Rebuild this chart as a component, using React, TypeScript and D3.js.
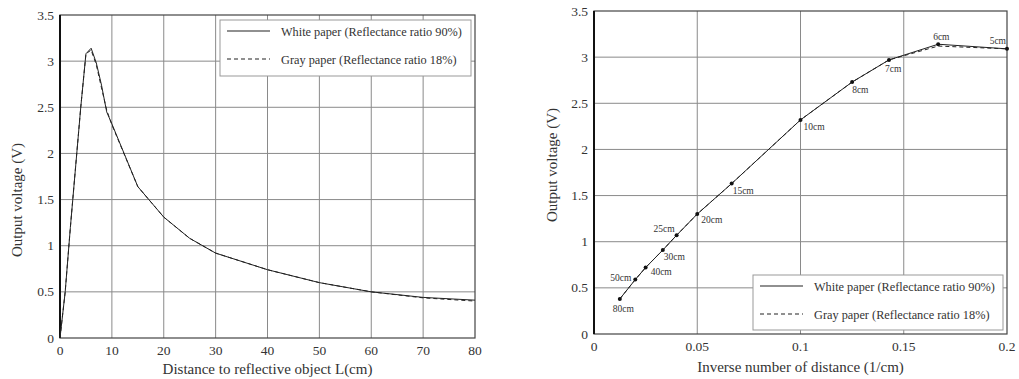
import React, { useEffect, useRef } from 'react'
import * as d3 from 'd3'

// left chart: output voltage vs distance
const distances = [0, 1, 2, 3, 4, 5, 6, 7, 8, 9, 10, 15, 20, 25, 30, 40, 50, 60, 70, 80]
const whitePaper = [0, 0.5, 1.2, 1.85, 2.5, 3.08, 3.14, 2.98, 2.74, 2.45, 2.32, 1.64, 1.31, 1.08, 0.92, 0.74, 0.6, 0.5, 0.44, 0.41]
const grayPaper = [0, 0.5, 1.2, 1.85, 2.5, 3.08, 3.12, 2.96, 2.71, 2.47, 2.31, 1.64, 1.31, 1.08, 0.92, 0.74, 0.6, 0.5, 0.435, 0.4]

// right chart: output voltage vs 1/distance
const markedDistances = [80, 50, 40, 30, 25, 20, 15, 10, 8, 7, 6, 5]
const markedWhite = [0.38, 0.59, 0.72, 0.91, 1.07, 1.3, 1.63, 2.32, 2.73, 2.97, 3.14, 3.09]
const markedGray = [0.38, 0.59, 0.72, 0.91, 1.07, 1.3, 1.63, 2.32, 2.73, 2.97, 3.12, 3.09]

const distanceTicks = [0, 10, 20, 30, 40, 50, 60, 70, 80]
const inverseTicks = [0, 0.05, 0.1, 0.15, 0.2]
const voltageTicks = [0, 0.5, 1, 1.5, 2, 2.5, 3, 3.5]

const legendLabels = ['White paper (Reflectance ratio 90%)', 'Gray paper (Reflectance ratio 18%)']

// where each distance label sits next to its dot: [dx, dy, anchor]
const labelPlacement: Record<number, [number, number, string]> = {
  80: [-7, 13, 'start'], 50: [-4, 1, 'end'], 40: [5, 7, 'start'], 30: [1, 10, 'start'],
  25: [-2, -3, 'end'], 20: [4, 9, 'start'], 15: [1, 10, 'start'], 10: [3, 10, 'start'],
  8: [0, 11, 'start'], 7: [-4, 12, 'start'], 6: [-5, -4, 'start'], 5: [-1, -5, 'end']
}

const FONT = '"Liberation Serif", "DejaVu Serif", serif'
const TEXT = '#333'
const LINE = '#222'

function drawPanel(svg, opts) {
  const { left, right, top, bottom, xDomain, xTicks, xFormat, xTitle, xTitleY, yTitleX, yTitleY } = opts
  const x = d3.scaleLinear().domain(xDomain).range([left, right])
  const y = d3.scaleLinear().domain([0, 3.5]).range([bottom, top])
  const g = svg.append('g')

  g.selectAll('line.vgrid').data(xTicks.slice(1, -1)).enter().append('line')
    .attr('x1', d => x(d)).attr('x2', d => x(d)).attr('y1', top).attr('y2', bottom)
    .attr('stroke', '#8a8a8a').attr('stroke-width', 1)
  g.selectAll('line.hgrid').data(voltageTicks.slice(1, -1)).enter().append('line')
    .attr('y1', d => y(d)).attr('y2', d => y(d)).attr('x1', left).attr('x2', right)
    .attr('stroke', '#8a8a8a').attr('stroke-width', 1)

  g.append('rect').attr('x', left).attr('y', top).attr('width', right - left).attr('height', bottom - top)
    .attr('fill', 'none').attr('stroke', '#444').attr('stroke-width', 1.2)
  g.append('line').attr('x1', left).attr('x2', left).attr('y1', top).attr('y2', bottom)
    .attr('stroke', '#111').attr('stroke-width', 2)

  g.selectAll('text.xt').data(xTicks).enter().append('text')
    .attr('x', d => x(d)).attr('y', bottom + 17).attr('text-anchor', 'middle')
    .attr('font-family', FONT).attr('font-size', 13.5).attr('fill', TEXT).text(xFormat)
  g.selectAll('text.yt').data(voltageTicks).enter().append('text')
    .attr('x', left - 6).attr('y', d => y(d) + 4.5).attr('text-anchor', 'end')
    .attr('font-family', FONT).attr('font-size', 13.5).attr('fill', TEXT).text(d => String(d))

  g.append('text').attr('x', (left + right) / 2).attr('y', xTitleY).attr('text-anchor', 'middle')
    .attr('font-family', FONT).attr('font-size', 15).attr('fill', TEXT).text(xTitle)
  g.append('text').attr('transform', `translate(${yTitleX},${yTitleY}) rotate(-90)`).attr('text-anchor', 'middle')
    .attr('font-family', FONT).attr('font-size', 15).attr('fill', TEXT).text('Output voltage (V)')

  return { x, y, g }
}

function drawLegend(g, bx, by, bw, bh) {
  g.append('rect').attr('x', bx).attr('y', by).attr('width', bw).attr('height', bh)
    .attr('fill', 'white').attr('stroke', '#999').attr('stroke-width', 1)
  legendLabels.forEach((label, i) => {
    const ly = by + 11 + i * 28
    g.append('line').attr('x1', bx + 7).attr('x2', bx + 50).attr('y1', ly).attr('y2', ly)
      .attr('stroke', LINE).attr('stroke-width', 1.2).attr('stroke-dasharray', i ? '4,3' : null)
    g.append('text').attr('x', bx + 61).attr('y', ly + 4.5)
      .attr('font-family', FONT).attr('font-size', 12.3).attr('fill', TEXT).text(label)
  })
}

export default function App() {
  const ref = useRef<SVGSVGElement>(null)

  useEffect(() => {
    const svg = d3.select(ref.current)
    svg.selectAll('*').remove()

    // left panel
    const L = drawPanel(svg, {
      left: 60, right: 475, top: 15, bottom: 338,
      xDomain: [0, 80], xTicks: distanceTicks, xFormat: d => String(d),
      xTitle: 'Distance to reflective object L(cm)', xTitleY: 374, yTitleX: 22, yTitleY: 200
    })
    const lineL = d3.line<number>().x((d, i) => L.x(distances[i])).y(d => L.y(d))
    L.g.append('path').attr('d', lineL(grayPaper)).attr('fill', 'none')
      .attr('stroke', LINE).attr('stroke-width', 1).attr('stroke-dasharray', '4,3')
    L.g.append('path').attr('d', lineL(whitePaper)).attr('fill', 'none')
      .attr('stroke', LINE).attr('stroke-width', 1)
    drawLegend(L.g, 220, 20, 251, 56)

    // right panel
    const R = drawPanel(svg, {
      left: 594, right: 1007, top: 11, bottom: 334,
      xDomain: [0, 0.2], xTicks: inverseTicks, xFormat: d => String(d),
      xTitle: 'Inverse number of distance (1/cm)', xTitleY: 372, yTitleX: 557, yTitleY: 165
    })
    const lineR = d3.line<number>().x((d, i) => R.x(1 / markedDistances[i])).y(d => R.y(d))
    R.g.append('path').attr('d', lineR(markedGray)).attr('fill', 'none')
      .attr('stroke', LINE).attr('stroke-width', 1).attr('stroke-dasharray', '4,3')
    R.g.append('path').attr('d', lineR(markedWhite)).attr('fill', 'none')
      .attr('stroke', LINE).attr('stroke-width', 1)
    R.g.selectAll('circle.pt').data(markedWhite).enter().append('circle')
      .attr('cx', (d, i) => R.x(1 / markedDistances[i])).attr('cy', d => R.y(d))
      .attr('r', 2).attr('fill', '#111')
    R.g.selectAll('text.pl').data(markedDistances).enter().append('text')
      .attr('x', (d, i) => R.x(1 / d) + labelPlacement[d][0])
      .attr('y', (d, i) => R.y(markedWhite[i]) + labelPlacement[d][1])
      .attr('text-anchor', d => labelPlacement[d][2])
      .attr('font-family', FONT).attr('font-size', 9.5).attr('fill', TEXT)
      .text(d => d + 'cm')
    drawLegend(R.g, 753, 275, 250, 55)
  }, [])

  return (
    <svg ref={ref} width={1019} height={379}
      style={{ position: 'absolute', left: 0, top: 0, background: 'white' }} />
  )
}
